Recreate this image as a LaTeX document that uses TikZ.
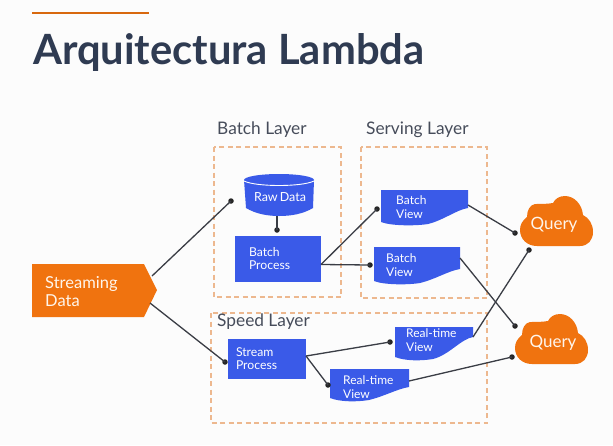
\documentclass[tikz,border=0pt]{standalone}
\usepackage{fontspec}
\setmainfont{Lato}
\definecolor{bluebox}{HTML}{3A5AE8}
\definecolor{orangebox}{HTML}{F0730F}
\definecolor{dashcol}{HTML}{EDB88F}
\definecolor{titlecol}{HTML}{2F3B52}
\definecolor{labelcol}{HTML}{464C5A}
\definecolor{linecol}{HTML}{3A3D45}
\tikzset{
  layerbox/.style={draw=dashcol,line width=1.3pt,dash pattern=on 5pt off 3.5pt},
  layerlabel/.style={text=labelcol,font=\fontsize{17.3}{19}\selectfont,inner sep=0pt,anchor=west},
  procbox/.style={fill=bluebox,draw=none,inner ysep=0pt,align=left,text=white,
    font=\fontsize{12.2}{13}\selectfont},
  viewshape/.style={fill=bluebox,draw=none},
  intext/.style={text=white,inner sep=0pt,anchor=west,align=left,font=\fontsize{12}{13.5}\selectfont},
  conn/.style={draw=linecol,line width=1.3pt},
  dot/.style={circle,fill=black!85,inner sep=0pt,minimum size=5.5pt},
  cloudshape/.style={fill=orangebox,draw=none},
  querytext/.style={text=white!92!orange,inner sep=0pt,font=\fontsize{17}{19}\selectfont}
}
\newcommand{\wavebox}[5]{% x0,y0,x1,y1,y-right-end
  \fill[viewshape] (#1,#2) -- (#3,#2) -- (#3,#5)
    .. controls ({#3-12},{#5+2}) and ({#3-24},{#4-5}) .. ({#3-40},{#4-1})
    .. controls ({#3-52},{#4+1}) and ({#1+10},{#4+1}) .. (#1,{#4-3}) -- cycle;}
\newcommand{\cloudat}[2]{%
  \fill[cloudshape,shift={(#1,#2)}] (17,50) -- (60,50)
    .. controls (68,50) and (73,44) .. (73,36)
    .. controls (73,28) and (69,22) .. (63,19)
    .. controls (62,8) and (54,0) .. (45,0)
    .. controls (39,0) and (35,3) .. (33,7)
    .. controls (28,8) and (20,8) .. (15,8)
    .. controls (10,9) and (7,14) .. (7,21)
    .. controls (2,25) and (0,29) .. (0,34)
    .. controls (0,43) and (7,50) .. (17,50) -- cycle;}
\begin{document}
\begin{tikzpicture}[x=1pt,y=-1pt]
\useasboundingbox (0,0) rectangle (613,445);
\fill[white!99!black] (0,0) rectangle (613,445);
% header
\draw[orangebox!90!black,line width=2.6pt] (32,13) -- (149,13);
\node[anchor=base west,inner sep=0pt,text=titlecol,font=\fontsize{41.7}{44}\selectfont\bfseries] (title) at (33,64) {Arquitectura Lambda};
% layers
\draw[layerbox] (214,147) rectangle (341,297);
\draw[layerbox] (361,147) rectangle (487,298);
\draw[layerbox] (211,313) rectangle (487,423);
\node[layerlabel] (batchlbl) at (217,129.5) {Batch Layer};
\node[layerlabel] (servlbl) at (366,129.5) {Serving Layer};
\node[layerlabel] (speedlbl) at (217,321.5) {Speed Layer};
% streaming
\fill[orangebox] (32,264) -- (144,264) -- (157,290) -- (144,317) -- (32,317) -- cycle;
\node[text=white!92!orange,inner sep=0pt,anchor=west,align=left,font=\fontsize{16.5}{18}\selectfont] (stream) at (45,292) {Streaming\\Data};
\coordinate (streamup) at (152,276);
\coordinate (streamdn) at (150,303);
% raw data
\fill[bluebox] (244,180) -- (246,208) .. controls (256,214) and (268,216) .. (279,216)
  .. controls (291,216) and (303,214) .. (313,208) -- (314,180) -- cycle;
\fill[bluebox] (279,180) ellipse [x radius=35,y radius=6];
\draw[white,line width=0.9pt] (244,181) .. controls (256,187) and (302,187) .. (314,181);
\node[text=white,inner sep=0pt,font=\fontsize{12.5}{14}\selectfont] (raw) at (280,197) {Raw\,Data};
\coordinate (rawout) at (277,216);
% boxes
\node[procbox,minimum width=86pt,minimum height=46pt,text width=58pt,inner xsep=14pt] (bp) at (278,259) {Batch\\Process};
\node[procbox,minimum width=78pt,minimum height=40pt,text width=62pt,inner xsep=8pt] (sp) at (267,359) {Stream\\Process};
\coordinate (bpout) at (321,264.5);
\coordinate (spout) at (306,356);
% views
\wavebox{381}{190}{468}{225}{208}
\wavebox{374}{247}{460}{284}{269}
\wavebox{395}{327}{473}{360}{337}
\wavebox{330}{369}{409}{401}{387}
\node[intext] (bv1) at (396,207) {Batch\\View};
\node[intext] (bv2) at (386,265) {Batch\\View};
\node[intext] (rt1) at (406,340) {Real-time\\View};
\node[intext] (rt2) at (343,387) {Real-time\\View};
\coordinate (bv1out) at (468,205);
\coordinate (bv2out) at (460,258);
\coordinate (rt1out) at (473,337);
\coordinate (rt2out) at (409,381);
% clouds
\cloudat{520}{196}
\cloudat{515}{314}
\node[querytext] (q1) at (554,225) {Query};
\node[querytext] (q2) at (553,343) {Query};
% dots
\node[dot] (d1) at (231,201) {};
\node[dot] (d2) at (225,362) {};
\node[dot] (d3) at (277,230) {};
\node[dot] (d4) at (377,209) {};
\node[dot] (d5) at (370,265) {};
\node[dot] (d6) at (515,233) {};
\node[dot] (d7) at (515,326) {};
\node[dot] (d8) at (390,342) {};
\node[dot] (d9) at (328,385) {};
\node[dot] (d10) at (529,250) {};
\node[dot] (d11) at (512,357) {};
% connectors
\draw[conn] (streamup) -- (d1.center);
\draw[conn] (streamdn) -- (d2.center);
\draw[conn] (rawout) -- (d3.center);
\draw[conn] (bpout) -- (d4.center);
\draw[conn] (bpout) -- (d5.center);
\draw[conn] (bv1out) -- (d6.center);
\draw[conn] (bv2out) -- (d7.center);
\draw[conn] (spout) -- (d8.center);
\draw[conn] (spout) -- (d9.center);
\draw[conn] (rt1out) -- (d10.center);
\draw[conn] (rt2out) -- (d11.center);
\end{tikzpicture}
\end{document}
